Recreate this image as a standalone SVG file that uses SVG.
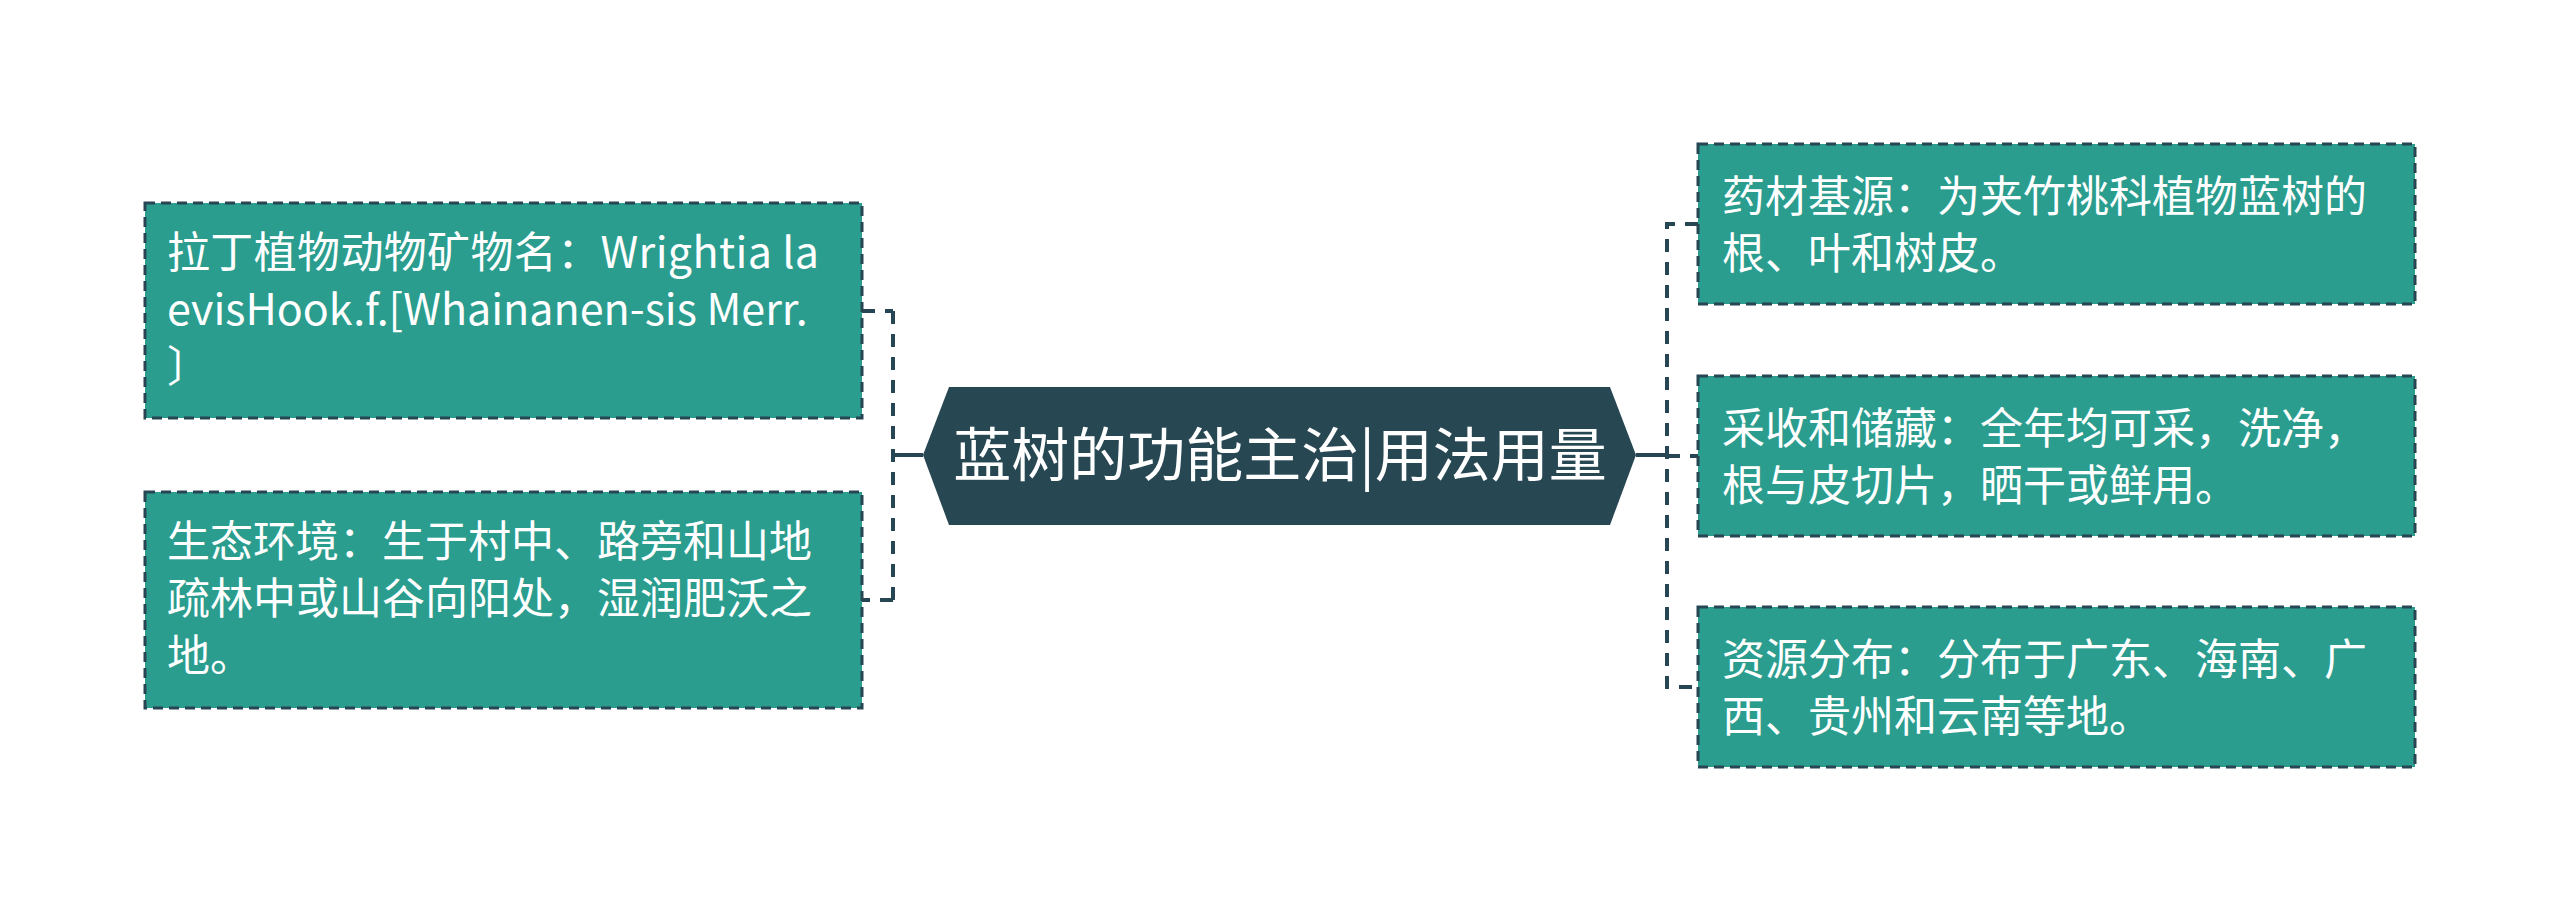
<svg xmlns="http://www.w3.org/2000/svg" width="2560" height="911" viewBox="0 0 2560 911">
<style>
.box{fill:#2a9d8f;stroke:#264653;stroke-width:3;stroke-dasharray:10 6}
.t{font-family:"Noto Sans CJK SC","Noto Sans",sans-serif;font-size:43px;fill:#ffffff}
.ct{font-family:"Noto Sans CJK SC","Noto Sans",sans-serif;font-size:58px;fill:#ffffff}
.dash{fill:none;stroke:#264653;stroke-width:4;stroke-dasharray:13 10}
.solid{fill:none;stroke:#264653;stroke-width:4}
</style>
<rect width="2560" height="911" fill="#ffffff"/>
<g id="connectors">
<path class="dash" d="M862 311 H893 M893 311 V600 M893 600 H862"/>
<path class="solid" d="M893 455 H923"/>
<path class="dash" d="M1698 224 H1667 V687 H1698"/>
<path class="solid" d="M1636 455 H1667"/>
<path class="dash" d="M1667 456 H1698"/>
</g>
<g id="center">
<polygon points="923,455 949,387 1610,387 1636,455 1610,525 949,525" fill="#274752"/>
<text class="ct" x="1280" y="476" text-anchor="middle">蓝树的功能主治|用法用量</text>
</g>
<g id="left1">
<rect class="box" x="145" y="203" width="717" height="215"/>
<text class="t" x="167" y="268" textLength="652" lengthAdjust="spacing">拉丁植物动物矿物名：Wrightia la</text>
<text class="t" x="167" y="325">evisHook.f.[Whainanen-sis Merr.</text>
<text class="t" x="167" y="382">〕</text>
</g>
<g id="left2">
<rect class="box" x="145" y="492" width="717" height="216"/>
<text class="t" x="167" y="557">生态环境：生于村中、路旁和山地</text>
<text class="t" x="167" y="614">疏林中或山谷向阳处，湿润肥沃之</text>
<text class="t" x="167" y="671">地。</text>
</g>
<g id="right1">
<rect class="box" x="1698" y="144" width="717" height="160"/>
<text class="t" x="1722" y="212">药材基源：为夹竹桃科植物蓝树的</text>
<text class="t" x="1722" y="269">根、叶和树皮。</text>
</g>
<g id="right2">
<rect class="box" x="1698" y="376" width="717" height="160"/>
<text class="t" x="1722" y="444">采收和储藏：全年均可采，洗净，</text>
<text class="t" x="1722" y="501">根与皮切片，晒干或鲜用。</text>
</g>
<g id="right3">
<rect class="box" x="1698" y="607" width="717" height="160"/>
<text class="t" x="1722" y="675">资源分布：分布于广东、海南、广</text>
<text class="t" x="1722" y="732">西、贵州和云南等地。</text>
</g>
</svg>
